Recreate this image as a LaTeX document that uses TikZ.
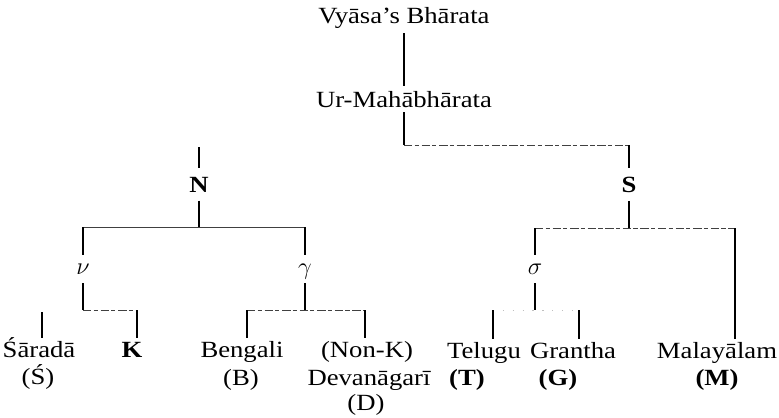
\documentclass[tikz,border=0pt]{standalone}
\usepackage{fontspec}
\setmainfont{Liberation Serif}[FakeStretch=1.15]
\usepackage{tikz}

\begin{document}
\begin{tikzpicture}[x=0.025cm, y=-0.025cm,
  txt/.style={font=\fontsize{16.5}{19}\selectfont, anchor=base, inner sep=0pt},
  titlelbl/.style={txt, inner sep=3.5pt},
  branchlbl/.style={txt, inner sep=6pt, font=\fontsize{16.5}{19}\selectfont\bfseries},
  greeklbl/.style={txt, text height=7pt, text depth=0pt, inner sep=6.3pt},
  leaflbl/.style={txt, text height=11pt, text depth=4pt, inner sep=2.5pt},
  stemline/.style={line width=1.3pt},
  forkbar/.style={line width=0.7pt, black!75},
  brokenbar/.style={forkbar, dash pattern=on 6pt off 1.5pt on 3pt off 2pt},
  fadedbar/.style={forkbar, black!25, dash pattern=on 1pt off 6pt}]
  \useasboundingbox (0,0) rectangle (779,417);

  \node[titlelbl] (vyasa) at (404,23) {Vyāsa’s Bhārata};
  \node[titlelbl] (ur) at (404,107) {Ur-Mahābhārata};
  \draw[stemline] (vyasa) -- (ur);

  \coordinate (ur-fork) at (404,145);
  \coordinate (s-top) at (629,145);
  \coordinate (n-top) at (199,147);
  \draw[stemline] (ur) -- (ur-fork);
  \draw[brokenbar] (ur-fork) -- (s-top);

  \node[branchlbl] (N) at (199,192) {N};
  \node[branchlbl] (S) at (629,192) {S};
  \draw[stemline] (n-top) -- (N);
  \draw[stemline] (s-top) -- (S);

  \coordinate (n-fork) at (199,227);
  \coordinate (nu-top) at (83,227);
  \coordinate (ga-top) at (305,227);
  \coordinate (s-fork) at (629,228);
  \coordinate (sg-top) at (535,228);
  \coordinate (ml-top) at (735,228);
  \draw[stemline] (N) -- (n-fork);
  \draw[stemline] (S) -- (s-fork);
  \draw[forkbar] (nu-top) -- (ga-top);
  \draw[brokenbar] (sg-top) -- (ml-top);

  \node[greeklbl] (nu) at (83,274) {$\nu$};
  \node[greeklbl] (ga) at (305,274) {$\gamma$};
  \node[greeklbl] (sg) at (535,274) {$\sigma$};
  \draw[stemline] (nu-top) -- (nu);
  \draw[stemline] (ga-top) -- (ga);
  \draw[stemline] (sg-top) -- (sg);

  \coordinate (nu-fork) at (83,310);
  \coordinate (ga-fork) at (305,310);
  \coordinate (sg-fork) at (535,310);
  \draw[stemline] (nu) -- (nu-fork);
  \draw[stemline] (ga) -- (ga-fork);
  \draw[stemline] (sg) -- (sg-fork);

  \coordinate (sar-top) at (42,312);
  \coordinate (k-top) at (137,310);
  \coordinate (bg-top) at (247,310);
  \coordinate (nk-top) at (365,310);
  \coordinate (te-top) at (493,310);
  \coordinate (gr-top) at (579,310);
  \draw[brokenbar] (nu-fork) -- (k-top);
  \draw[brokenbar] (bg-top) -- (nk-top);
  \draw[fadedbar] (te-top) -- (gr-top);

  % leaves
  \node[leaflbl] (sarada) at (39,357) {Śāradā};
  \node[txt] (sarada-ab) at (38,384) {(Ś)};
  \node[leaflbl] (k) at (132,357) {\textbf{K}};
  \node[leaflbl] (bengali) at (242,357) {Bengali};
  \node[txt] (bengali-ab) at (241,385) {(B)};
  \node[leaflbl] (nonk) at (367,357) {(Non-K)};
  \node[txt] (deva) at (369,385) {Devanāgarī};
  \node[txt] (deva-ab) at (366,410) {(D)};
  \node[leaflbl] (telugu) at (484,358) {Telugu};
  \node[txt] (telugu-ab) at (467,385) {\textbf{(T)}};
  \node[leaflbl] (grantha) at (573,358) {Grantha};
  \node[txt] (grantha-ab) at (558,385) {\textbf{(G)}};
  \node[leaflbl] (malayalam) at (717,358) {Malayālam};
  \node[txt] (malayalam-ab) at (717,385) {\textbf{(M)}};

  \draw[stemline] (sar-top) -- (sar-top |- sarada.north);
  \draw[stemline] (k-top) -- (k-top |- k.north);
  \draw[stemline] (bg-top) -- (bg-top |- bengali.north);
  \draw[stemline] (nk-top) -- (nk-top |- nonk.north);
  \draw[stemline] (te-top) -- (te-top |- telugu.north);
  \draw[stemline] (gr-top) -- (gr-top |- grantha.north);
  \draw[stemline] (ml-top) -- (ml-top |- malayalam.north);
\end{tikzpicture}
\end{document}
